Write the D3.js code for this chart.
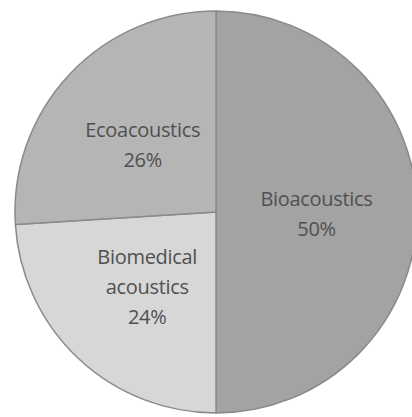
<!DOCTYPE html>
<html>
<head>
<meta charset="utf-8">
<script src="https://cdn.jsdelivr.net/npm/d3@7"></script>
<style>
  body { margin: 0; background: #fff; }
  svg { display: block; }
</style>
</head>
<body>
<svg id="pie"></svg>
<script>
// data
var categories = ["Bioacoustics", "Biomedical acoustics", "Ecoacoustics"];
var values = [50, 24, 26];
var labelLines = [["Bioacoustics", "50%"], ["Biomedical", "acoustics", "24%"], ["Ecoacoustics", "26%"]];
var fills = ["#a3a3a3", "#d7d7d7", "#b5b5b5"];

var width = 412, height = 417;
var cx = 216, cy = 212, radius = 201;

var svg = d3.select("#pie")
  .attr("width", width)
  .attr("height", height);

var data = categories.map((c, i) => ({name: c, value: values[i], lines: labelLines[i], fill: fills[i]}));

var pie = d3.pie()
  .sort(null)
  .value(d => d.value);

var arc = d3.arc()
  .innerRadius(0)
  .outerRadius(radius);

var g = svg.append("g")
  .attr("transform", `translate(${cx},${cy})`);

g.selectAll("path")
  .data(pie(data))
  .enter().append("path")
  .attr("d", arc)
  .attr("fill", d => d.data.fill)
  .attr("stroke", "#8a8a8a")
  .attr("stroke-width", 1.5)
  .attr("stroke-linejoin", "round");

var lineH = 30;

var labels = g.selectAll("text")
  .data(pie(data))
  .enter().append("text")
  .attr("transform", d => `translate(${arc.centroid(d)})`)
  .attr("text-anchor", "middle")
  .attr("fill", "#505050")
  .style("font", "20px 'Open Sans', sans-serif")
  .style("letter-spacing", "-0.3px");

labels.each(function(d) {
  var n = d.data.lines.length;
  var t = d3.select(this);
  d.data.lines.forEach((l, i) => {
    t.append("tspan")
      .attr("x", 0)
      .attr("y", (i - (n - 1) / 2) * lineH + 9)
      .text(l);
  });
});
</script>
</body>
</html>
